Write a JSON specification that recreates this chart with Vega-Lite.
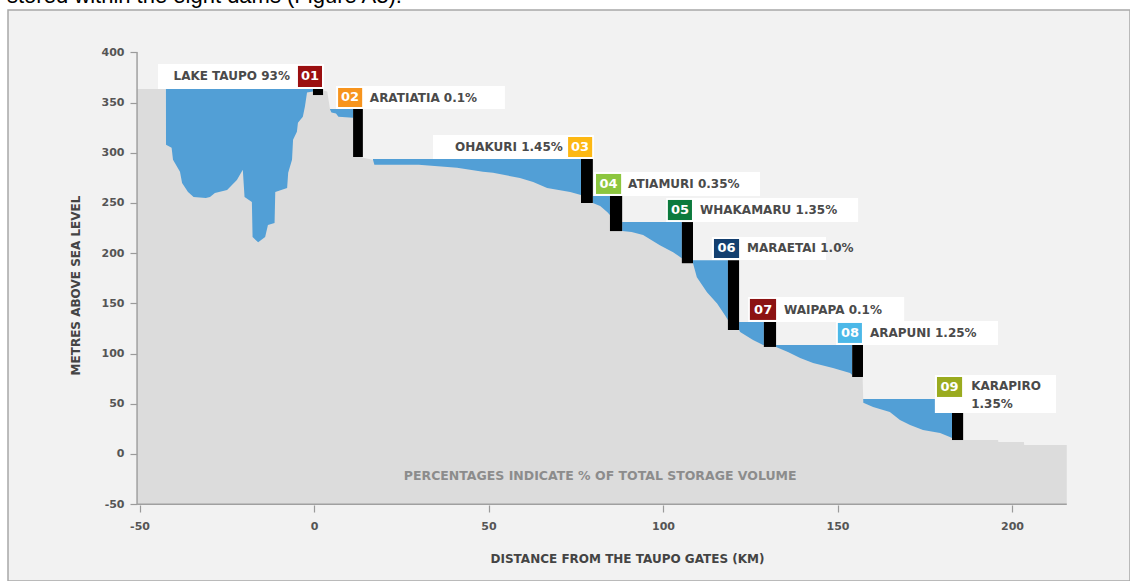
{
  "$schema": "https://vega.github.io/schema/vega-lite/v6.json",
  "autosize": {"type": "none"},
  "padding": {"left": 8, "top": 10, "right": 0, "bottom": 0},
  "width": 1122,
  "height": 571,
  "background": "white",
  "title": {"text": "stored within the eight dams (Figure A3).", "anchor": "start", "frame": "group", "font": "Liberation Sans", "fontSize": 22, "fontWeight": "normal", "color": "#000000", "baseline": "alphabetic", "offset": 0, "dx": -1, "dy": 14.5},
  "config": {
    "view": {"fill": "#f2f2f2", "stroke": "#a8a8a8", "strokeWidth": 1.5},
    "axis": {"grid": false, "domain": false, "tickColor": "#9a9a9a", "tickWidth": 1.2, "labelFont": "DejaVu Sans", "labelFontWeight": "bold", "labelFontSize": 11, "labelColor": "#555555", "titleFont": "DejaVu Sans", "titleFontWeight": "bold", "titleFontSize": 12, "titleColor": "#444444"}
  },
  "datasets": {
    "terrain": [
      {"km": -50.7, "elev": 363.5}, {"km": -42.5, "elev": 363.5}, {"km": -42.4, "elev": 308}, {"km": -40.8, "elev": 305},
      {"km": -40.4, "elev": 293}, {"km": -38.4, "elev": 281}, {"km": -37.8, "elev": 270}, {"km": -36.1, "elev": 261},
      {"km": -34.5, "elev": 256}, {"km": -31.0, "elev": 255}, {"km": -29.8, "elev": 256}, {"km": -28.4, "elev": 260},
      {"km": -24.9, "elev": 263}, {"km": -22.1, "elev": 273}, {"km": -20.4, "elev": 283}, {"km": -19.9, "elev": 256},
      {"km": -17.8, "elev": 251}, {"km": -17.6, "elev": 216}, {"km": -16.0, "elev": 211}, {"km": -14.0, "elev": 216},
      {"km": -13.2, "elev": 228}, {"km": -11.3, "elev": 230}, {"km": -11.1, "elev": 261}, {"km": -7.7, "elev": 265},
      {"km": -7.4, "elev": 280}, {"km": -6.3, "elev": 293}, {"km": -6.0, "elev": 313}, {"km": -4.9, "elev": 321},
      {"km": -4.6, "elev": 330}, {"km": -3.2, "elev": 336}, {"km": -2.6, "elev": 346}, {"km": -2.0, "elev": 360},
      {"km": -0.3, "elev": 361}, {"km": 0.0, "elev": 358}, {"km": 2.6, "elev": 358}, {"km": 2.8, "elev": 362},
      {"km": 3.8, "elev": 361}, {"km": 4.6, "elev": 343}, {"km": 5.0, "elev": 340}, {"km": 6.3, "elev": 339},
      {"km": 7.0, "elev": 336}, {"km": 11.2, "elev": 335}, {"km": 11.4, "elev": 300}, {"km": 14.0, "elev": 295},
      {"km": 16.9, "elev": 293}, {"km": 17.3, "elev": 288}, {"km": 30.0, "elev": 288}, {"km": 41.0, "elev": 285},
      {"km": 48.4, "elev": 281}, {"km": 51.3, "elev": 280}, {"km": 59.0, "elev": 275}, {"km": 62.8, "elev": 271},
      {"km": 66.8, "elev": 265}, {"km": 73.4, "elev": 261}, {"km": 76.5, "elev": 258}, {"km": 76.7, "elev": 255},
      {"km": 79.9, "elev": 250}, {"km": 82.0, "elev": 247}, {"km": 84.0, "elev": 241}, {"km": 84.8, "elev": 238},
      {"km": 85.0, "elev": 232}, {"km": 88.3, "elev": 222}, {"km": 91.0, "elev": 221}, {"km": 94.3, "elev": 218},
      {"km": 99.1, "elev": 208}, {"km": 102.9, "elev": 201}, {"km": 105.4, "elev": 195}, {"km": 108.6, "elev": 190},
      {"km": 109.7, "elev": 176}, {"km": 112.6, "elev": 161}, {"km": 115.5, "elev": 150}, {"km": 117.8, "elev": 138},
      {"km": 118.6, "elev": 133.5}, {"km": 121.8, "elev": 123.5}, {"km": 122.1, "elev": 121.5}, {"km": 125.8, "elev": 113.5},
      {"km": 128.7, "elev": 108.6}, {"km": 132.4, "elev": 106.6}, {"km": 135.8, "elev": 101.6}, {"km": 139.3, "elev": 95.6},
      {"km": 143.0, "elev": 90.6}, {"km": 148.7, "elev": 85.7}, {"km": 153.6, "elev": 80.7}, {"km": 154.2, "elev": 78.7},
      {"km": 157.2, "elev": 76.7}, {"km": 157.4, "elev": 51}, {"km": 160.2, "elev": 46.8}, {"km": 165.0, "elev": 41.8},
      {"km": 167.9, "elev": 33.9}, {"km": 170.8, "elev": 28.9}, {"km": 174.5, "elev": 23.9}, {"km": 179.4, "elev": 20.9},
      {"km": 182.2, "elev": 16.9}, {"km": 182.8, "elev": 16}, {"km": 186.0, "elev": 14}, {"km": 196.0, "elev": 14},
      {"km": 196.1, "elev": 12}, {"km": 203.4, "elev": 12}, {"km": 203.5, "elev": 9}, {"km": 215.7, "elev": 9}
    ],
    "lakes": [
      {"lake": "Taupo", "from": -42.5, "to": -0.3, "level": 363.5},
      {"lake": "Aratiatia", "from": 4.4, "to": 11.2, "level": 343.6},
      {"lake": "Ohakuri", "from": 16.9, "to": 76.5, "level": 293.8},
      {"lake": "Atiamuri", "from": 79.9, "to": 84.8, "level": 257},
      {"lake": "Whakamaru", "from": 88.3, "to": 105.4, "level": 231},
      {"lake": "Maraetai", "from": 108.6, "to": 118.6, "level": 193},
      {"lake": "Waipapa", "from": 121.8, "to": 128.9, "level": 131.5},
      {"lake": "Arapuni", "from": 132.4, "to": 154.2, "level": 108.6},
      {"lake": "Karapiro", "from": 157.3, "to": 182.8, "level": 54.8}
    ],
    "dams": [
      {"id": "01", "x1": -0.3, "x2": 2.6, "top": 363.5, "bottom": 357.5},
      {"id": "02", "x1": 11.2, "x2": 14.0, "top": 343.6, "bottom": 295.8},
      {"id": "03", "x1": 76.5, "x2": 79.9, "top": 293.8, "bottom": 250},
      {"id": "04", "x1": 84.8, "x2": 88.3, "top": 257, "bottom": 222},
      {"id": "05", "x1": 105.4, "x2": 108.6, "top": 231, "bottom": 190},
      {"id": "06", "x1": 118.6, "x2": 121.8, "top": 193, "bottom": 123.5},
      {"id": "07", "x1": 128.9, "x2": 132.4, "top": 131.5, "bottom": 106.6},
      {"id": "08", "x1": 154.2, "x2": 157.3, "top": 108.6, "bottom": 76.7},
      {"id": "09", "x1": 182.8, "x2": 186.0, "top": 54.8, "bottom": 13.9}
    ],
    "boxes": [
      {"id": "01", "x1": -44.7, "x2": 2.9, "top": 388.4, "bottom": 363.5},
      {"id": "02", "x1": 6.3, "x2": 54.7, "top": 366.5, "bottom": 343.6},
      {"id": "03", "x1": 34.1, "x2": 80.2, "top": 317.7, "bottom": 293.8},
      {"id": "04", "x1": 80.2, "x2": 127.8, "top": 280.9, "bottom": 257},
      {"id": "05", "x1": 100.9, "x2": 155.9, "top": 255, "bottom": 231},
      {"id": "06", "x1": 114.0, "x2": 146.7, "top": 216.1, "bottom": 193.2},
      {"id": "07", "x1": 124.4, "x2": 169.1, "top": 156.4, "bottom": 131.5},
      {"id": "08", "x1": 149.6, "x2": 196.0, "top": 132.5, "bottom": 108.6},
      {"id": "09", "x1": 177.9, "x2": 212.6, "top": 78.7, "bottom": 40.8}
    ],
    "badges": [
      {"id": "01", "x1": -4.6, "x2": 2.3, "top": 386.5, "bottom": 365.5, "cx": -1.15, "cy": 376},
      {"id": "02", "x1": 6.9, "x2": 13.8, "top": 364.5, "bottom": 345.6, "cx": 10.3, "cy": 355.1},
      {"id": "03", "x1": 72.8, "x2": 79.7, "top": 315.7, "bottom": 295.8, "cx": 76.2, "cy": 305.8},
      {"id": "04", "x1": 80.8, "x2": 88.0, "top": 278.9, "bottom": 259, "cx": 84.4, "cy": 268.9},
      {"id": "05", "x1": 101.4, "x2": 108.3, "top": 253, "bottom": 233, "cx": 104.9, "cy": 243},
      {"id": "06", "x1": 114.6, "x2": 121.8, "top": 214.1, "bottom": 195.2, "cx": 118.2, "cy": 204.7},
      {"id": "07", "x1": 124.9, "x2": 132.4, "top": 154.4, "bottom": 133.5, "cx": 128.7, "cy": 143.9},
      {"id": "08", "x1": 150.1, "x2": 157.0, "top": 130.5, "bottom": 110.6, "cx": 153.6, "cy": 120.5},
      {"id": "09", "x1": 178.5, "x2": 185.7, "top": 76.7, "bottom": 56.8, "cx": 182.1, "cy": 66.7}
    ],
    "names": [
      {"text": "LAKE TAUPO 93%", "side": "left", "km": -6.9, "m": 376},
      {"text": "ARATIATIA 0.1%", "side": "right", "km": 16.0, "m": 355},
      {"text": "OHAKURI 1.45%", "side": "left", "km": 71.3, "m": 305.8},
      {"text": "ATIAMURI 0.35%", "side": "right", "km": 90.0, "m": 268.9},
      {"text": "WHAKAMARU 1.35%", "side": "right", "km": 110.6, "m": 243},
      {"text": "MARAETAI 1.0%", "side": "right", "km": 124.1, "m": 204.7},
      {"text": "WAIPAPA 0.1%", "side": "right", "km": 134.7, "m": 143.9},
      {"text": "ARAPUNI 1.25%", "side": "right", "km": 159.3, "m": 120.5},
      {"text": "KARAPIRO", "side": "right", "km": 188.3, "m": 67.7},
      {"text": "1.35%", "side": "right", "km": 188.3, "m": 49.8}
    ],
    "axislines": [
      {"x1": -50.7, "x2": 215.7, "y1": -50, "y2": -50},
      {"x1": -50.7, "x2": -50.7, "y1": -50, "y2": 400}
    ],
    "note": [
      {"text": "PERCENTAGES INDICATE % OF TOTAL STORAGE VOLUME", "km": 82, "m": -22}
    ]
  },
  "layer": [
    {
      "data": {"name": "lakes"},
      "mark": {"type": "rect", "color": "#529fd6"},
      "encoding": {
        "x": {"field": "from", "type": "quantitative", "scale": {"domain": [-87.68, 233.81], "nice": false, "zero": false},
              "axis": {"title": "DISTANCE FROM THE TAUPO GATES (KM)", "values": [-50, 0, 50, 100, 150, 200], "labelExpr": "'' + datum.value", "offset": -76, "tickSize": 7, "labelPadding": 8, "titleX": 619, "titleY": 53, "titleBaseline": "middle", "titleAnchor": null}},
        "x2": {"field": "to"},
        "y": {"field": "level", "type": "quantitative", "scale": {"domain": [-126.5, 442.2], "nice": false, "zero": false},
              "axis": {"title": "METRES ABOVE SEA LEVEL", "values": [-50, 0, 50, 100, 150, 200, 250, 300, 350, 400], "labelExpr": "'' + datum.value", "offset": -129, "tickSize": 7, "labelPadding": 6, "titleX": -62, "titleY": 275, "titleBaseline": "middle", "titleAlign": "center", "titleAngle": 270}},
        "y2": {"datum": -50}
      }
    },
    {
      "data": {"name": "terrain"},
      "mark": {"type": "area", "color": "#dcdcdc", "opacity": 1},
      "encoding": {
        "x": {"field": "km", "type": "quantitative"},
        "y": {"field": "elev", "type": "quantitative"},
        "y2": {"datum": -50}
      }
    },
    {
      "data": {"name": "axislines"},
      "mark": {"type": "rule", "color": "#a0a0a0", "strokeWidth": 1.5},
      "encoding": {
        "x": {"field": "x1", "type": "quantitative"},
        "x2": {"field": "x2"},
        "y": {"field": "y1", "type": "quantitative"},
        "y2": {"field": "y2"}
      }
    },
    {
      "data": {"name": "dams"},
      "mark": {"type": "rect", "color": "#000000"},
      "encoding": {
        "x": {"field": "x1", "type": "quantitative"},
        "x2": {"field": "x2"},
        "y": {"field": "top", "type": "quantitative"},
        "y2": {"field": "bottom"}
      }
    },
    {
      "data": {"name": "boxes"},
      "mark": {"type": "rect", "color": "#ffffff"},
      "encoding": {
        "x": {"field": "x1", "type": "quantitative"},
        "x2": {"field": "x2"},
        "y": {"field": "top", "type": "quantitative"},
        "y2": {"field": "bottom"}
      }
    },
    {
      "data": {"name": "badges"},
      "mark": {"type": "rect"},
      "encoding": {
        "x": {"field": "x1", "type": "quantitative"},
        "x2": {"field": "x2"},
        "y": {"field": "top", "type": "quantitative"},
        "y2": {"field": "bottom"},
        "color": {"field": "id", "type": "nominal", "legend": null,
                  "scale": {"domain": ["01", "02", "03", "04", "05", "06", "07", "08", "09"],
                            "range": ["#9b0f10", "#f7941d", "#fdb813", "#8cc63f", "#0c7a3d", "#133f6f", "#8c1212", "#4cb8e8", "#9aab1f"]}}
      }
    },
    {
      "data": {"name": "badges"},
      "mark": {"type": "text", "color": "#ffffff", "font": "DejaVu Sans", "fontWeight": "bold", "fontSize": 13, "align": "center", "baseline": "middle"},
      "encoding": {
        "x": {"field": "cx", "type": "quantitative"},
        "y": {"field": "cy", "type": "quantitative"},
        "text": {"field": "id"}
      }
    },
    {
      "data": {"name": "names"},
      "transform": [{"filter": "datum.side == 'right'"}],
      "mark": {"type": "text", "color": "#4a4a4a", "font": "DejaVu Sans", "fontWeight": "bold", "fontSize": 12, "align": "left", "baseline": "middle"},
      "encoding": {
        "x": {"field": "km", "type": "quantitative"},
        "y": {"field": "m", "type": "quantitative"},
        "text": {"field": "text"}
      }
    },
    {
      "data": {"name": "names"},
      "transform": [{"filter": "datum.side == 'left'"}],
      "mark": {"type": "text", "color": "#4a4a4a", "font": "DejaVu Sans", "fontWeight": "bold", "fontSize": 12, "align": "right", "baseline": "middle"},
      "encoding": {
        "x": {"field": "km", "type": "quantitative"},
        "y": {"field": "m", "type": "quantitative"},
        "text": {"field": "text"}
      }
    },
    {
      "data": {"name": "note"},
      "mark": {"type": "text", "color": "#8c8c8c", "font": "DejaVu Sans", "fontWeight": "bold", "fontSize": 12.5, "align": "center", "baseline": "middle"},
      "encoding": {
        "x": {"field": "km", "type": "quantitative"},
        "y": {"field": "m", "type": "quantitative"},
        "text": {"field": "text"}
      }
    }
  ]
}
